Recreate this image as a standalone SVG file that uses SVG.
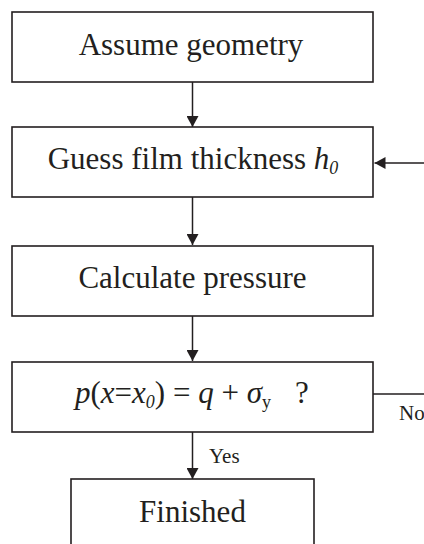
<svg xmlns="http://www.w3.org/2000/svg" width="424" height="544" viewBox="0 0 424 544">
<style>
.box{fill:#fff;stroke:#231f20;stroke-width:1.6}
.t{font-family:"Liberation Serif","Times New Roman",serif;font-size:31px;fill:#231f20}
.l{font-family:"Liberation Serif","Times New Roman",serif;font-size:21px;fill:#231f20}
.i{font-style:italic}
.c{fill:none;stroke:#231f20;stroke-width:1.5}
</style>
<defs>
<marker id="ah" viewBox="0 0 11 12" refX="11" refY="6" markerWidth="11" markerHeight="12" markerUnits="userSpaceOnUse" orient="auto">
<path d="M0,0 L11,6 L0,12 Z" fill="#231f20"/>
</marker>
</defs>
<rect width="424" height="544" fill="#fff"/>
<g id="connectors">
<line class="c" x1="192.5" y1="82" x2="192.5" y2="127" marker-end="url(#ah)"/>
<line class="c" x1="192.5" y1="197" x2="192.5" y2="245" marker-end="url(#ah)"/>
<line class="c" x1="192.5" y1="316" x2="192.5" y2="361" marker-end="url(#ah)"/>
<line class="c" x1="192.5" y1="432" x2="192.5" y2="479" marker-end="url(#ah)"/>
<path class="c" d="M373,394 H440 V163 H374.5" marker-end="url(#ah)"/>
<text class="l" x="209" y="463">Yes</text>
<text class="l" x="399" y="420">No</text>
</g>
<g id="n1">
<rect class="box" x="12" y="12" width="361" height="70"/>
<text class="t" x="191" y="55" text-anchor="middle">Assume geometry</text>
</g>
<g id="n2">
<rect class="box" x="12" y="127" width="361" height="70"/>
<text class="t" x="193" y="169" text-anchor="middle">Guess film thickness <tspan class="i">h</tspan><tspan class="i" font-size="18" dy="5">0</tspan></text>
</g>
<g id="n3">
<rect class="box" x="12" y="246" width="361" height="70"/>
<text class="t" x="192.5" y="288" text-anchor="middle">Calculate pressure</text>
</g>
<g id="n4">
<rect class="box" x="12" y="362" width="361" height="70"/>
<text class="t" x="75" y="403"><tspan class="i">p</tspan>(<tspan class="i">x</tspan>=<tspan class="i">x</tspan><tspan class="i" font-size="18" dy="5">0</tspan><tspan dy="-5">)</tspan> = <tspan class="i">q</tspan> + <tspan class="i">σ</tspan><tspan font-size="18" dy="5">y</tspan></text>
<text class="t" x="295" y="403">?</text>
</g>
<g id="n5">
<rect class="box" x="71" y="479" width="243" height="72"/>
<text class="t" x="192.5" y="522" text-anchor="middle">Finished</text>
</g>
</svg>
